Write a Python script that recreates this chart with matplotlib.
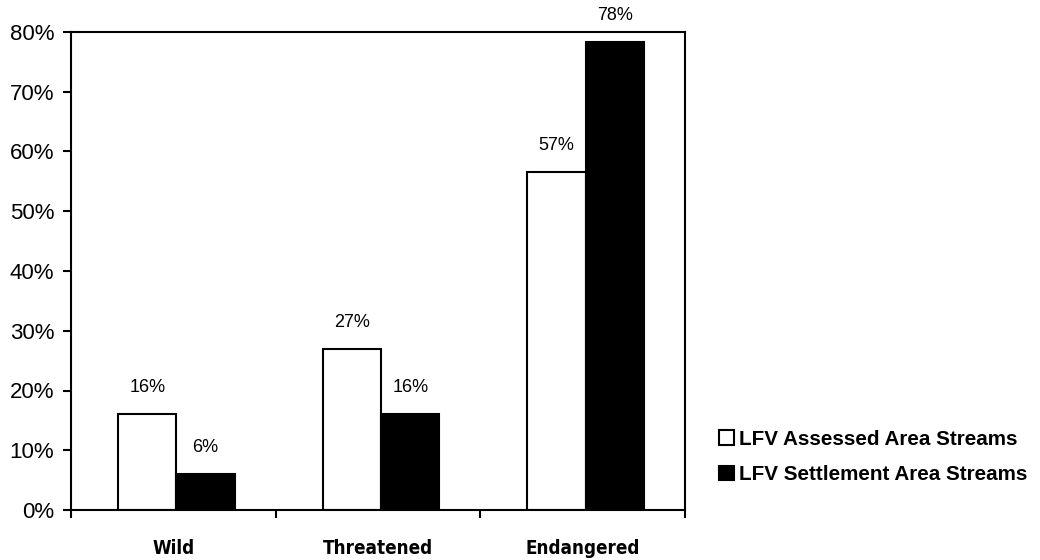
import matplotlib
matplotlib.use("Agg")
import matplotlib.pyplot as plt
from matplotlib.ticker import FuncFormatter, FixedLocator
from matplotlib.patches import Patch
import numpy as np

# data
categories = ["Wild", "Threatened", "Endangered"]
assessed = [16, 27, 56.6]
settlement = [6, 16, 78.3]
series_names = ["LFV Assessed Area Streams", "LFV Settlement Area Streams"]

fig = plt.figure(figsize=(10.4, 5.6), dpi=100)
ax = fig.add_axes([71 / 1040, 50 / 560, 614 / 1040, 478 / 560])

x = np.arange(len(categories))
w = 0.285
b1 = ax.bar(x - w / 2 + 0.015, assessed, w, color="white", edgecolor="black", linewidth=1.5)
b2 = ax.bar(x + w / 2 + 0.015, settlement, w, color="black", edgecolor="black", linewidth=1.5)

for bars, vals in [(b1, assessed), (b2, settlement)]:
    for r, v in zip(bars, vals):
        ax.text(r.get_x() + r.get_width() / 2, v + 3, "%d%%" % round(v),
                ha="center", va="bottom", fontsize=13, family="Liberation Sans")

ax.set_xlim(-0.5, 2.5)
ax.set_ylim(0, 80)
ax.set_yticks(np.arange(0, 81, 10))
ax.yaxis.set_major_formatter(FuncFormatter(lambda v, p: "%d%%" % v))
ax.tick_params(axis="y", labelsize=16, length=6, width=1.5, direction="out", pad=6)
for lab in ax.get_yticklabels():
    lab.set_family("Liberation Sans")

# x ticks sit between the categories, labels centred under each group
ax.xaxis.set_major_locator(FixedLocator([-0.5, 0.5, 1.5, 2.5]))
ax.xaxis.set_major_formatter(FuncFormatter(lambda v, p: ""))
ax.xaxis.set_minor_locator(FixedLocator(x))
ax.set_xticklabels(categories, minor=True)
ax.tick_params(axis="x", which="major", length=6, width=1.5, direction="out")
ax.tick_params(axis="x", which="minor", length=0, pad=21)
for lab in ax.get_xticklabels(minor=True):
    lab.set_family("DejaVu Sans")
    lab.set_stretch("condensed")
    lab.set_fontweight("bold")
    lab.set_fontsize(13.5)

for s in ax.spines.values():
    s.set_linewidth(1.5)

handles = [Patch(facecolor="white", edgecolor="black", linewidth=1.5),
           Patch(facecolor="black", edgecolor="black", linewidth=1.5)]
fig.legend(handles, series_names, loc="center left", bbox_to_anchor=(700 / 1040, 1 - 457 / 560),
           frameon=False, handlelength=0.72, handleheight=0.72, handletextpad=0.25,
           labelspacing=0.8, prop={"family": "Liberation Sans", "weight": "bold", "size": 14.9})

fig.savefig("out.png", dpi=100)
